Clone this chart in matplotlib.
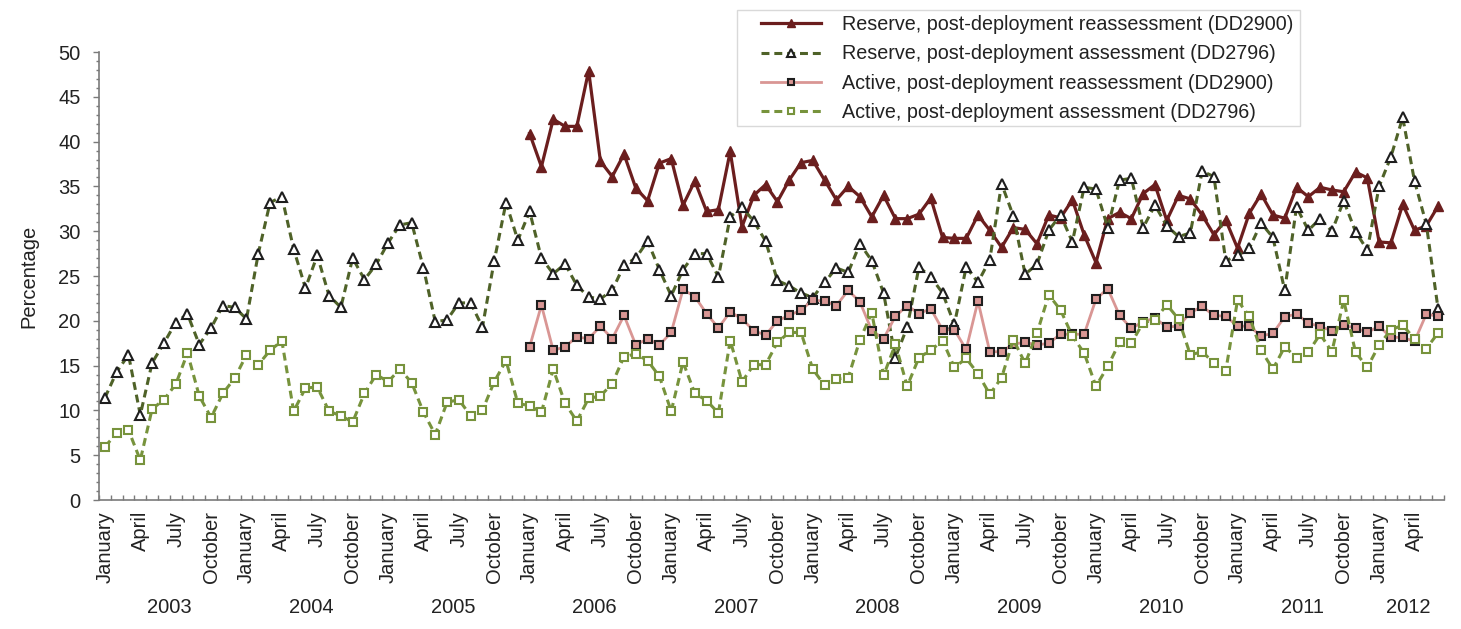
import numpy as np
import matplotlib
matplotlib.use("Agg")
from matplotlib import pyplot as plt
from matplotlib import transforms
from matplotlib.patches import Rectangle

plt.rcParams['font.family'] = ['Liberation Sans', 'DejaVu Sans']

# monthly values, January 2003 - June 2012
years = [2003, 2004, 2005, 2006, 2007, 2008, 2009, 2010, 2011, 2012]
month_names = ["January", "February", "March", "April", "May", "June", "July",
               "August", "September", "October", "November", "December"]

reserve_assess = [
    11.4, 14.3, 16.2, 9.5, 15.3, 17.5, 19.8, 20.75, 17.35, 19.2, 21.7, 21.5,
    20.2, 27.5, 33.2, 33.85, 28.0, 23.65, 27.3, 22.8, 21.5, 27.0, 24.6, 26.3,
    28.7, 30.7, 30.95, 25.9, 19.9, 20.1, 22.0, 22.0, 19.3, 26.7, 33.2, 29.0,
    32.2, 27.0, 25.25, 26.35, 23.95, 22.65, 22.45, 23.4, 26.2, 27.0, 28.9, 25.7,
    22.8, 25.7, 27.5, 27.5, 24.9, 31.6, 32.7, 31.1, 28.9, 24.5, 23.9, 23.1,
    22.6, 24.3, 25.9, 25.4, 28.6, 26.7, 23.1, 15.9, 19.3, 26.0, 24.9, 23.1,
    19.6, 26.0, 24.3, 26.8, 35.3, 31.7, 25.2, 26.3, 30.1, 31.8, 28.8, 34.9,
    34.7, 30.4, 35.7, 35.9, 30.4, 32.9, 30.6, 29.4, 29.8, 36.7, 36.1, 26.7,
    27.3, 28.1, 30.9, 29.3, 23.4, 32.7, 30.1, 31.4, 30.0, 33.4, 29.95, 27.9,
    35.0, 38.3, 42.7, 35.6, 30.8, 21.3,
]

active_assess = [
    5.95, 7.45, 7.8, 4.45, 10.15, 11.2, 12.9, 16.4, 11.6, 9.2, 11.9, 13.6,
    16.2, 15.1, 16.7, 17.75, 9.9, 12.5, 12.6, 9.9, 9.4, 8.7, 11.9, 14.0,
    13.2, 14.6, 13.1, 9.8, 7.3, 10.9, 11.2, 9.4, 10.0, 13.2, 15.55, 10.8,
    10.5, 9.8, 14.6, 10.8, 8.8, 11.35, 11.6, 13.0, 16.0, 16.3, 15.55, 13.8,
    9.9, 15.4, 11.9, 11.1, 9.7, 17.8, 13.2, 15.1, 15.1, 17.6, 18.7, 18.7,
    14.6, 12.8, 13.5, 13.65, 17.9, 20.9, 13.9, 17.4, 12.7, 15.9, 16.7, 17.8,
    14.8, 15.8, 14.1, 11.8, 13.65, 17.9, 15.25, 18.6, 22.9, 21.2, 18.3, 16.4,
    12.7, 14.9, 17.6, 17.5, 19.8, 20.1, 21.8, 20.2, 16.2, 16.55, 15.3, 14.4,
    22.3, 20.5, 16.7, 14.6, 17.1, 15.9, 16.5, 18.5, 16.55, 22.3, 16.5, 14.8,
    17.3, 19.0, 19.5, 18.0, 16.9, 18.65,
]

# reassessment series start January 2006
reassess_start = 36

reserve_reassess = [
    40.9, 37.2, 42.5, 41.7, 41.7, 47.9, 37.8, 36.1, 38.6, 34.8, 33.4, 37.6,
    38.1, 32.9, 35.6, 32.2, 32.4, 38.9, 30.5, 34.0, 35.2, 33.3, 35.7, 37.65,
    37.9, 35.7, 33.5, 35.0, 33.85, 31.6, 34.0, 31.4, 31.4, 31.9, 33.7, 29.3,
    29.2, 29.2, 31.8, 30.1, 28.2, 30.4, 30.2, 28.6, 31.8, 31.5, 33.5, 29.6,
    26.5, 31.4, 32.1, 31.4, 34.2, 35.2, 31.2, 34.0, 33.6, 31.8, 29.6, 31.25,
    28.1, 32.0, 34.15, 31.8, 31.45, 34.9, 33.85, 34.9, 34.6, 34.4, 36.6, 35.95,
    28.8, 28.7, 33.0, 30.1, 30.6, 32.8,
]

active_reassess = [
    17.1, 21.75, 16.7, 17.1, 18.2, 18.0, 19.4, 18.0, 20.6, 17.3, 18.0, 17.3,
    18.7, 23.5, 22.7, 20.8, 19.2, 21.0, 20.2, 18.9, 18.4, 20.0, 20.6, 21.2,
    22.3, 22.2, 21.7, 23.4, 22.1, 18.9, 18.0, 20.5, 21.7, 20.8, 21.35, 19.0,
    19.0, 16.8, 22.2, 16.55, 16.55, 17.4, 17.6, 17.3, 17.5, 18.5, 18.5, 18.5,
    22.4, 23.6, 20.6, 19.15, 19.9, 20.3, 19.3, 19.4, 20.9, 21.6, 20.6, 20.5,
    19.4, 19.4, 18.3, 18.6, 20.45, 20.75, 19.75, 19.35, 18.9, 19.5, 19.2, 18.7,
    19.4, 18.15, 18.15, 17.7, 20.75, 20.5,
]

labels = ["Reserve, post-deployment reassessment (DD2900)",
          "Reserve, post-deployment assessment (DD2796)",
          "Active, post-deployment reassessment (DD2900)",
          "Active, post-deployment assessment (DD2796)"]

n = len(reserve_assess)
x = np.arange(n)
x_re = np.arange(reassess_start, reassess_start + len(reserve_reassess))

maroon = '#6B1E1E'
olive = '#4F6228'
green = '#77933C'
pink = '#D99694'
edge = '#1E1E1E'
txt = '#222222'
axis_col = '#7A7A7A'
fs = 14.5
W, H = 1461, 629

fig = plt.figure(figsize=(W / 100, H / 100), dpi=100)
ax = fig.add_axes([99 / W, 1 - 500 / H, 1345 / W, 448 / H])

dash = (0, (2.6, 1.6))
l1, = ax.plot(x_re, reserve_reassess, color=maroon, lw=2.3, marker='^', ms=7.5,
              mfc=maroon, mec=maroon, mew=1)
l2, = ax.plot(x, reserve_assess, color=olive, lw=2.2, ls=dash, marker='^', ms=7,
              mfc='white', mec=edge, mew=1.5)
l3, = ax.plot(x_re, active_reassess, color=pink, lw=2.0, marker='s', ms=6.3,
              mfc=pink, mec=edge, mew=1.5)
l4, = ax.plot(x, active_assess, color=green, lw=2.2, ls=dash, marker='s', ms=6.2,
              mfc='white', mec=green, mew=1.5)

ax.set_xlim(-0.5, n - 0.5)
ax.set_ylim(0, 50)

# month labels every quarter, ticks at each month boundary
major = [i for i in range(n) if i % 3 == 0]
ax.set_xticks(major)
ax.set_xticklabels([month_names[i % 12] for i in major], rotation=90,
                   fontsize=fs, color=txt)
ax.set_xticks(np.arange(-0.5, n, 1), minor=True)
ax.tick_params(axis='x', which='major', length=0, pad=8)
ax.tick_params(axis='x', which='minor', direction='in', length=3.6,
               width=1, color=axis_col)

ax.set_yticks(range(0, 51, 5))
ax.set_yticks(range(0, 51, 1), minor=True)
ax.tick_params(axis='y', which='major', length=4.2, width=1, color=axis_col,
               labelsize=fs, labelcolor=txt, pad=9)
ax.tick_params(axis='y', which='minor', length=2.4, width=1, color=axis_col)

for s in ['top', 'right']:
    ax.spines[s].set_visible(False)
for s in ['left', 'bottom']:
    ax.spines[s].set_color(axis_col)
    ax.spines[s].set_linewidth(1.2)

ax.set_ylabel("Percentage", fontsize=fs, color=txt, labelpad=14)

# year labels under the month labels
trans = transforms.blended_transform_factory(ax.transData, ax.transAxes)
for j, yr in enumerate(years):
    first = j * 12
    last = min(first + 11, n - 1)
    ax.text((first + last) / 2, -0.239, str(yr), transform=trans,
            ha='center', va='center', fontsize=fs, color=txt)

# legend without its own frame, box drawn separately (wider left padding)
leg = ax.legend([l1, l2, l3, l4], labels, loc='upper left',
                bbox_to_anchor=(761 / W, 1 - 15 / H),
                bbox_transform=fig.transFigure, borderaxespad=0,
                fontsize=14.2, handlelength=3.05, handletextpad=1.05,
                labelspacing=0.53, borderpad=0, frameon=False,
                markerscale=0.75)
for t in leg.get_texts():
    t.set_color(txt)
fig.patches.append(Rectangle((737 / W, 1 - 126 / H), (1300 - 737) / W, 116 / H,
                             transform=fig.transFigure, fill=False,
                             edgecolor='#D9D9D9', lw=1, zorder=5))

fig.savefig("out.png", dpi=100)
